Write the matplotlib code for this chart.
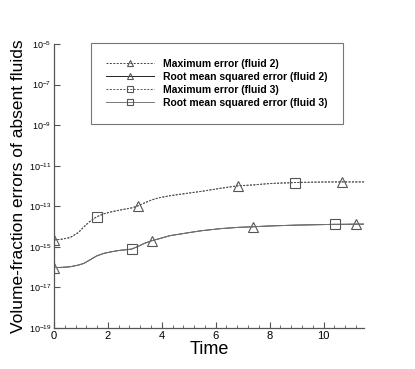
import numpy as np
import matplotlib
matplotlib.use("Agg")
import matplotlib.pyplot as plt
from matplotlib.ticker import FixedLocator, MultipleLocator

plt.rcParams['font.family'] = ['Liberation Sans', 'DejaVu Sans']
plt.rcParams['mathtext.default'] = 'regular'

# time samples along the curves
time = [0, 0.3, 0.6, 0.9, 1.1, 1.3, 1.58, 1.85, 2.1, 2.4, 2.88, 3.12, 3.35, 3.62,
        3.9, 4.3, 5.0, 5.5, 6.2, 6.83, 7.38, 8.0, 8.95, 9.7, 10.41, 10.68, 11.21, 11.5]

# log10 of the errors
max_err_f2 = [-14.66, -14.62, -14.54, -14.30, -14.03, -13.78, -13.52, -13.37, -13.28, -13.20,
              -13.08, -12.98, -12.84, -12.69, -12.58, -12.48, -12.35, -12.26, -12.11, -11.99,
              -11.95, -11.88, -11.83, -11.81, -11.80, -11.80, -11.80, -11.80]
rms_err_f2 = [-16.02, -16.01, -15.98, -15.90, -15.82, -15.67, -15.45, -15.32, -15.25, -15.18,
              -15.11, -14.98, -14.83, -14.70, -14.60, -14.45, -14.30, -14.20, -14.10, -14.04,
              -14.01, -13.97, -13.93, -13.91, -13.89, -13.89, -13.88, -13.88]
max_err_f3 = max_err_f2[:]
rms_err_f3 = rms_err_f2[:]

# where the symbols sit (indices into time)
mark_max_f2 = [0, 11, 19, 25]
mark_rms_f2 = [0, 13, 20, 26]
mark_max_f3 = [6, 22]
mark_rms_f3 = [10, 24]

labels = ["Maximum error (fluid 2)", "Root mean squared error (fluid 2)",
          "Maximum error (fluid 3)", "Root mean squared error (fluid 3)"]

fig = plt.figure(figsize=(4.15, 3.69), dpi=100)
ax = fig.add_axes([0.130, 0.111, 0.747, 0.770])

mk = dict(markersize=6.5, markerfacecolor='none', markeredgecolor='#555555',
          markeredgewidth=0.8)
ax.plot(time, np.power(10.0, max_err_f2), ls=(0, (2, 1.5)), color='#444444', lw=0.7,
        marker='^', markevery=mark_max_f2, label=labels[0], **mk)
ax.plot(time, np.power(10.0, rms_err_f2), ls='-', color='#222222', lw=0.7,
        marker='^', markevery=mark_rms_f2, label=labels[1], **mk)
ax.plot(time, np.power(10.0, max_err_f3), ls=(0, (2, 1.5)), color='#555555', lw=0.7,
        marker='s', markevery=mark_max_f3, label=labels[2], **mk)
ax.plot(time, np.power(10.0, rms_err_f3), ls='-', color='#777777', lw=0.7,
        marker='s', markevery=mark_rms_f3, label=labels[3], **mk)

ax.set_yscale('log')
ax.set_ylim(1e-19, 1e-5)
ax.set_xlim(0, 11.5)
ax.yaxis.set_major_locator(FixedLocator([10.0**e for e in range(-19, -4, 2)]))
ax.yaxis.set_minor_locator(FixedLocator([]))
ax.xaxis.set_major_locator(MultipleLocator(2))
ax.xaxis.set_minor_locator(MultipleLocator(0.4))

for s in ['top', 'right']:
    ax.spines[s].set_visible(False)
for s in ['left', 'bottom']:
    ax.spines[s].set_color('#555555')
    ax.spines[s].set_linewidth(0.9)
ax.tick_params(which='both', direction='in', color='#555555', pad=2)
ax.tick_params(axis='x', labelsize=8)
ax.tick_params(axis='y', labelsize=6.5, pad=2)
ax.tick_params(which='major', length=4)
ax.tick_params(which='minor', length=2)

ax.set_xlabel("Time", fontsize=13, labelpad=0)
ax.set_ylabel("Volume-fraction errors of absent fluids", fontsize=12.5)
ax.yaxis.set_label_coords(-0.09, 0.5)

leg = ax.legend(loc='upper left', bbox_to_anchor=(0.119, 1.003), frameon=True,
                fancybox=False, edgecolor='#555555', prop={'weight': 'bold', 'size': 7.5},
                handlelength=4.6, borderpad=1.5, labelspacing=0.3, handletextpad=0.8,
                markerscale=0.75, borderaxespad=0)
leg.get_frame().set_linewidth(0.8)

fig.savefig("out.png", dpi=100)
